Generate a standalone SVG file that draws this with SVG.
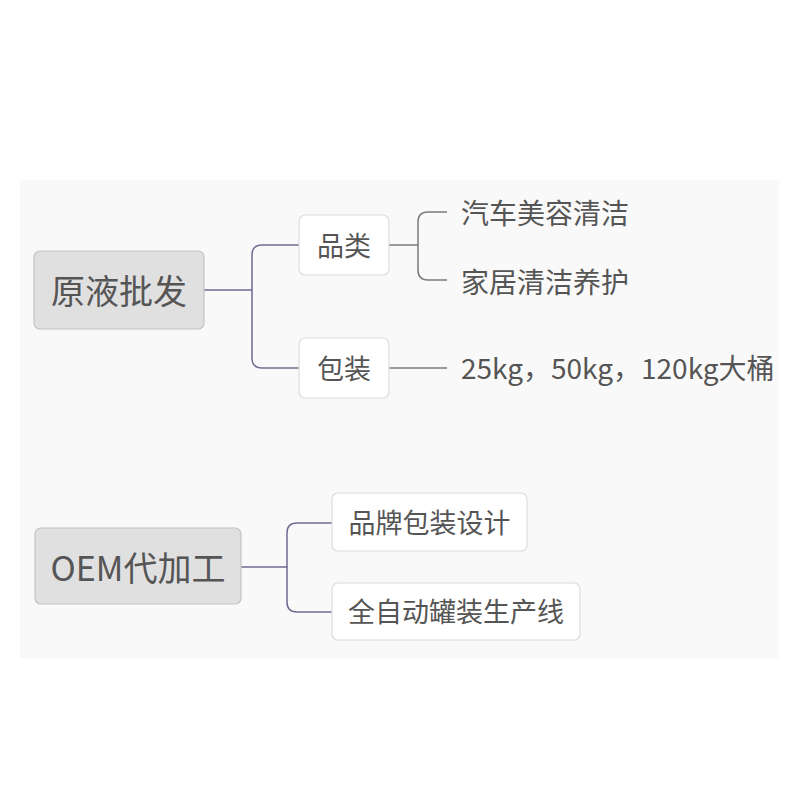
<svg xmlns="http://www.w3.org/2000/svg" width="800" height="800" viewBox="0 0 800 800">
<style>
text{font-family:"Noto Sans CJK SC","Noto Sans",sans-serif;fill:#555555;dominant-baseline:central}
.root rect{fill:#e0e0e0;stroke:#c4c4c4;stroke-width:1.2}
.sub rect{fill:#ffffff;stroke:#dcdcdc;stroke-width:1.2}
.c1{fill:none;stroke:#6f6a92;stroke-width:1.5}
.c2{fill:none;stroke:#7a7a7a;stroke-width:1.5}
</style>
<rect x="20" y="180" width="759" height="478" fill="#f9f9f9"/>
<g id="connectors">
<path class="c1" d="M204,290 H252 M299,245 H262 Q252,245 252,255 V358 Q252,368 262,368 H299"/>
<path class="c2" d="M389,245 H418 M447,212 H428 Q418,212 418,222 V270 Q418,280 428,280 H447"/>
<path class="c2" d="M389,368 H447"/>
<path class="c1" d="M241,567 H287 M332,523 H297 Q287,523 287,533 V602 Q287,612 297,612 H332"/>
</g>
<g id="n-yuanye" class="root"><rect x="34" y="251" width="170" height="78" rx="6"/><text x="119" y="289" font-size="34" text-anchor="middle">原液批发</text></g>
<g id="n-pinlei" class="sub"><rect x="299" y="215" width="90" height="60" rx="6"/><text x="344" y="244" font-size="27" text-anchor="middle">品类</text></g>
<g id="n-baozhuang" class="sub"><rect x="299" y="338" width="90" height="60" rx="6"/><text x="344" y="367" font-size="27" text-anchor="middle">包装</text></g>
<g id="n-qiche"><text x="461" y="212" font-size="28">汽车美容清洁</text></g>
<g id="n-jiaju"><text x="461" y="281" font-size="28">家居清洁养护</text></g>
<g id="n-kg"><text x="461" y="367" font-size="28">25kg，50kg，120kg大桶</text></g>
<g id="n-oem" class="root"><rect x="35" y="528" width="206" height="76" rx="6"/><text x="138" y="566" font-size="34" text-anchor="middle">OEM代加工</text></g>
<g id="n-pinpai" class="sub"><rect x="332" y="493" width="195" height="58" rx="6"/><text x="429.5" y="521" font-size="27" text-anchor="middle">品牌包装设计</text></g>
<g id="n-quanzidong" class="sub"><rect x="332" y="583" width="248" height="57" rx="6"/><text x="456" y="610" font-size="27" text-anchor="middle">全自动罐装生产线</text></g>
</svg>
